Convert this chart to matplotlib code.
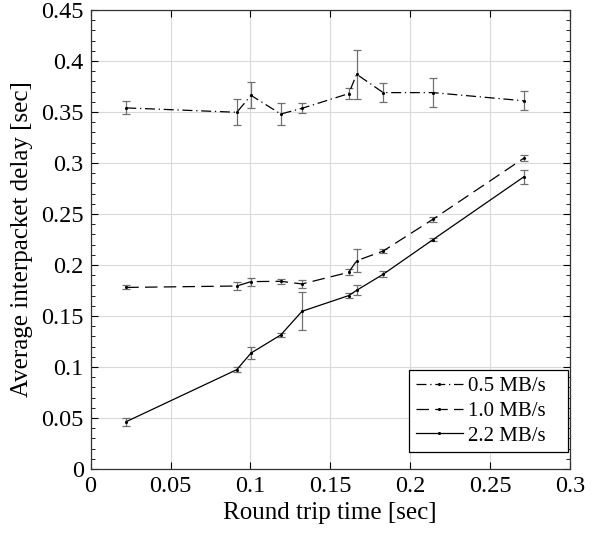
import matplotlib
matplotlib.use("Agg")
import matplotlib.pyplot as plt
from matplotlib.ticker import MultipleLocator, FuncFormatter

rtt = [0.0223, 0.0915, 0.1004, 0.119, 0.1323, 0.1615, 0.1665, 0.1831, 0.2142, 0.2710]

d05 = [0.354, 0.3497, 0.3663, 0.348, 0.3536, 0.368, 0.387, 0.369, 0.369, 0.361]
e05 = [0.0064, 0.0129, 0.0127, 0.0106, 0.0049, 0.0054, 0.0242, 0.0093, 0.0144, 0.0093]

d10 = [0.178, 0.1794, 0.1837, 0.184, 0.1814, 0.1928, 0.2042, 0.2137, 0.2448, 0.3046]
e10 = [0.002, 0.0038, 0.004, 0.0026, 0.004, 0.0028, 0.0113, 0.0015, 0.0023, 0.0028]

d22 = [0.0464, 0.0974, 0.1137, 0.1314, 0.1546, 0.170, 0.1752, 0.1909, 0.2248, 0.2863]
e22 = [0.004, 0.0026, 0.006, 0.002, 0.0185, 0.0028, 0.0049, 0.003, 0.0015, 0.0067]

labels = ["0.5 MB/s", "1.0 MB/s", "2.2 MB/s"]

plt.rcParams['font.family'] = ['Liberation Serif', 'DejaVu Serif']
plt.rcParams['mathtext.fontset'] = 'stix'

fig = plt.figure(figsize=(6, 5.4), dpi=100)
ax = fig.add_axes([0.151, 0.1315, 0.799, 0.85])

styles = [(0, (8, 3, 1, 3)), (0, (10, 5)), '-']
series = [(d05, e05), (d10, e10), (d22, e22)]
handles = []
for (d, e), ls, lab in zip(series, styles, labels):
    ax.errorbar(rtt, d, yerr=e, fmt='none', ecolor='#707070', elinewidth=0.9,
                capsize=3, capthick=0.9, zorder=2)
    h, = ax.plot(rtt, d, linestyle=ls, color='black', linewidth=0.9,
                 marker='.', markersize=2.5, label=lab, zorder=3)
    handles.append(h)

ax.set_xlim(0, 0.3)
ax.set_ylim(0, 0.45)
ax.xaxis.set_major_locator(MultipleLocator(0.05))
ax.yaxis.set_major_locator(MultipleLocator(0.05))
ax.yaxis.set_minor_locator(MultipleLocator(0.01))
fmt = FuncFormatter(lambda v, p: ('%g' % round(v, 4)))
ax.xaxis.set_major_formatter(fmt)
ax.yaxis.set_major_formatter(fmt)
ax.tick_params(which='both', direction='in', top=True, right=True, labelsize=17.5)
ax.tick_params(which='major', length=5, width=0.8, pad=5)
ax.tick_params(which='minor', length=3, width=0.6)
ax.grid(True, which='major', color='#d9d9d9', linewidth=0.8)
ax.set_axisbelow(True)
for s in ax.spines.values():
    s.set_linewidth(0.9)
    s.set_color('#333333')

ax.set_xlabel("Round trip time [sec]", fontsize=18, labelpad=4)
ax.set_ylabel("Average interpacket delay [sec]", fontsize=18, labelpad=6)

leg = ax.legend(handles=handles, loc='lower left', mode='expand',
                bbox_to_anchor=(0.665, 0.037, 0.331, 0.1765),
                fontsize=15, frameon=True,
                fancybox=False, edgecolor='black', framealpha=1,
                handlelength=2.25, handletextpad=0.25, borderpad=0.3,
                labelspacing=0.25, borderaxespad=0.0)
leg.get_frame().set_linewidth(0.9)

fig.savefig("out.png", dpi=100)
